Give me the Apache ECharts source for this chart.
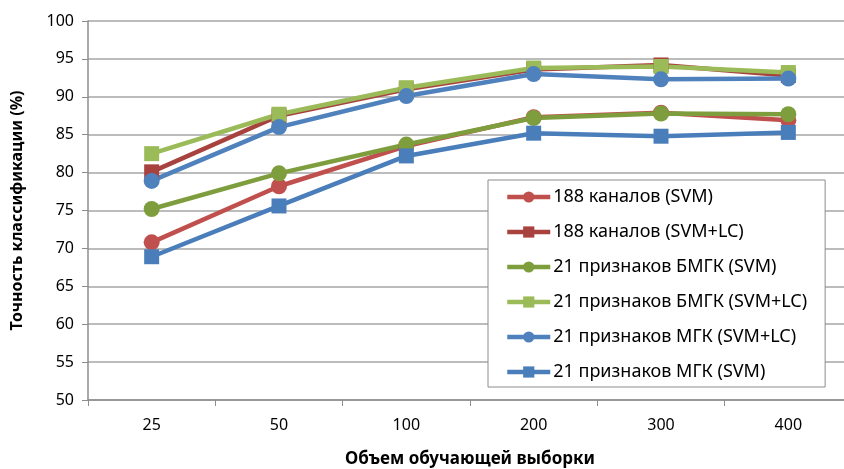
<!DOCTYPE html>
<html>
<head>
<meta charset="utf-8">
<script src="https://cdn.jsdelivr.net/npm/echarts@6/dist/echarts.min.js"></script>
<style>
html,body{margin:0;padding:0;background:#fff;}
#chart{width:844px;height:469px;}
</style>
</head>
<body>
<div id="chart"></div>
<script>
"use strict";
/*data*/
let sizes = ['25','50','100','200','300','400'];
let ch188Svm = [70.8, 78.2, 83.5, 87.3, 87.9, 86.9];
let ch188SvmLc = [80.1, 87.5, 91.0, 93.6, 94.2, 92.8];
let bmgkSvm = [75.2, 79.9, 83.7, 87.2, 87.8, 87.7];
let bmgkSvmLc = [82.5, 87.7, 91.2, 93.8, 94.0, 93.2];
let mgkSvmLc = [78.9, 86.0, 90.1, 93.0, 92.3, 92.4];
let mgkSvm = [68.9, 75.6, 82.2, 85.2, 84.8, 85.3];

let font = "Noto Sans";

function line(name, data, color, symbol){
    return {
        type:"line",
        name:name,
        data:data,
        symbol:symbol,
        symbolSize:symbol === "rect" ? 15 : 16,
        lineStyle:{width:4.5,color:color},
        itemStyle:{color:color},
        emphasis:{disabled:true}
    };
}

let chart = echarts.init(document.getElementById("chart"));
chart.setOption({
    animation:false,
    backgroundColor:"#fff",
    grid:{
        left:88,
        top:21,
        bottom:69,
        right:-8,
        outerBoundsMode:"none"
    },
    legend:{
        orient:"vertical",
        left:488,
        top:180,
        padding:[7,18,5,17],
        backgroundColor:"#fff",
        borderColor:"#8c8c8c",
        borderWidth:1,
        itemWidth:43,
        itemHeight:14,
        itemGap:15,
        lineStyle:{width:4.5},
        textStyle:{fontFamily:font,fontSize:18,color:"#000",lineHeight:20,padding:[0,0,0,-2]},
        data:['188 каналов (SVM)','188 каналов (SVM+LC)','21 признаков БМГК (SVM)',
            '21 признаков БМГК (SVM+LC)','21 признаков МГК (SVM+LC)','21 признаков МГК (SVM)']
    },
    xAxis:{
        type:"category",
        data:sizes,
        boundaryGap:true,
        name:"Объем обучающей выборки",
        nameLocation:"middle",
        nameGap:51,
        nameTextStyle:{fontFamily:font,fontSize:17,fontWeight:"bold",color:"#000"},
        axisLine:{lineStyle:{color:"#8c8c8c",width:1.5}},
        axisTick:{show:true,length:6,lineStyle:{color:"#8c8c8c"}},
        axisLabel:{fontFamily:font,fontSize:16,color:"#000",margin:17}
    },
    yAxis:{
        type:"value",
        min:50,
        max:100,
        interval:5,
        name:"Точность классификации (%)",
        nameLocation:"middle",
        nameGap:63,
        nameTextStyle:{fontFamily:font,fontSize:16,fontWeight:"bold",color:"#000"},
        axisLine:{show:true,lineStyle:{color:"#8c8c8c",width:1.5}},
        axisTick:{show:true,length:6,lineStyle:{color:"#8c8c8c"}},
        axisLabel:{fontFamily:font,fontSize:16,color:"#000",margin:14},
        splitLine:{lineStyle:{color:"#a6a6a6",width:1.5}}
    },
    series:[
        line('188 каналов (SVM)', ch188Svm, "#C0504D", "circle"),
        line('188 каналов (SVM+LC)', ch188SvmLc, "#A8423F", "rect"),
        line('21 признаков БМГК (SVM)', bmgkSvm, "#7E9E3E", "circle"),
        line('21 признаков БМГК (SVM+LC)', bmgkSvmLc, "#9BBB59", "rect"),
        line('21 признаков МГК (SVM+LC)', mgkSvmLc, "#4F81BD", "circle"),
        line('21 признаков МГК (SVM)', mgkSvm, "#4A7EBB", "rect")
    ]
});
</script>
</body>
</html>
